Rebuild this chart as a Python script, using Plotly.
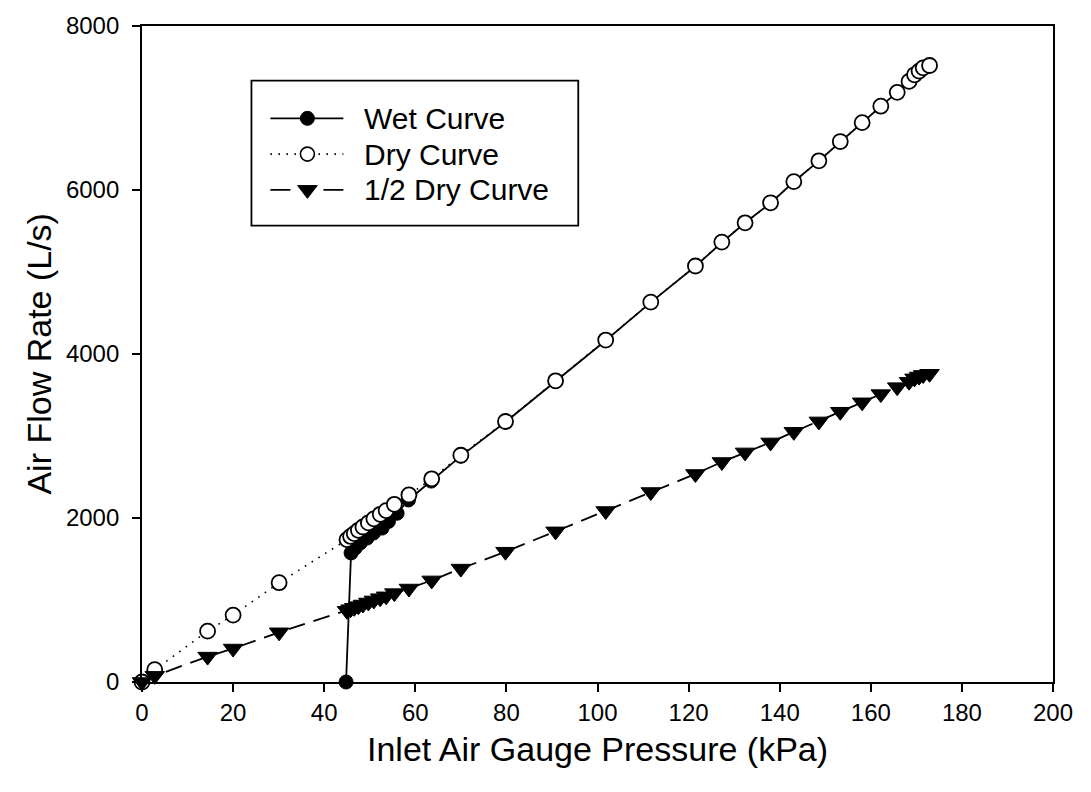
import plotly.graph_objects as go

# ---------------- data ----------------
dry_p = [0, 2.8, 14.4, 20.0, 30.1, 45.0, 45.8, 46.6, 47.5, 48.5, 49.7, 50.9, 52.3, 53.6,
         55.4, 58.6, 63.6, 70.0, 79.8, 90.8, 101.8, 111.7, 121.5, 127.3, 132.4, 138.0,
         143.1, 148.6, 153.3, 158.1, 162.2, 165.8, 168.4, 169.6, 170.6, 171.5, 172.9]
dry_q = [0, 150, 620, 816, 1211, 1736, 1775, 1810, 1850, 1890, 1940, 1990, 2045, 2090,
         2167, 2281, 2478, 2765, 3177, 3673, 4170, 4633, 5073, 5365, 5600, 5844,
         6102, 6356, 6591, 6821, 7022, 7191, 7324, 7405, 7450, 7490, 7518]

wet_p = [44.8, 45.9, 46.8, 47.9, 49.4, 50.8, 52.7, 54.1, 56.0, 58.5, 63.5, 70.0, 79.8,
         90.8, 101.8, 111.7, 121.5, 127.3, 132.4, 138.0, 143.1, 148.6, 153.3, 158.1,
         162.2, 165.8, 168.4, 169.6, 170.7, 171.4, 172.3]
wet_q = [0, 1574, 1634, 1695, 1755, 1816, 1877, 1958, 2058, 2220, 2450, 2755, 3170,
         3665, 4165, 4630, 5070, 5360, 5600, 5840, 6100, 6355, 6590, 6820,
         7020, 7190, 7320, 7400, 7445, 7487, 7505]

half_p = [0, 2.8, 14.4, 20.0, 30.1, 45.0, 45.8, 46.6, 47.5, 48.5, 49.7, 50.9, 52.3, 53.6,
          55.4, 58.6, 63.6, 70.0, 79.8, 90.8, 101.8, 111.7, 121.5, 127.3, 132.4, 138.0,
          143.1, 148.6, 153.3, 158.1, 162.2, 165.8, 168.4, 169.6, 170.6, 171.5, 172.9]
half_q = [0, 75, 310, 408, 606, 868, 888, 905, 925, 945, 970, 995, 1022, 1045,
          1084, 1140, 1239, 1383, 1589, 1837, 2085, 2317, 2537, 2683, 2800, 2922,
          3051, 3178, 3296, 3411, 3511, 3596, 3662, 3703, 3725, 3745, 3759]

x_ticks = [0, 20, 40, 60, 80, 100, 120, 140, 160, 180, 200]
y_ticks = [0, 2000, 4000, 6000, 8000]

series_names = ["Wet Curve", "Dry Curve", "1/2 Dry Curve"]
x_title = "Inlet Air Gauge Pressure (kPa)"
y_title = "Air Flow Rate (L/s)"

# ---------------- layout geometry (pixels) ----------------
W, H = 1091, 792
L, R, T, B = 141.5, 1053, 21, 681.7
FONT = "Liberation Sans, Arial, sans-serif"


def px(xp):
    return (xp - L) / (R - L)


def py(yp):
    return (B - yp) / (B - T)


fig = go.Figure()

fig.add_trace(go.Scatter(
    x=wet_p, y=wet_q, mode="lines+markers", name=series_names[0],
    line=dict(color="black", width=1.8),
    marker=dict(symbol="circle", size=14, color="black", line=dict(color="black", width=1)),
    cliponaxis=False, showlegend=False))

fig.add_trace(go.Scatter(
    x=dry_p, y=dry_q, mode="lines+markers", name=series_names[1],
    line=dict(color="black", width=1.6, dash="1.6px,6.4px"),
    marker=dict(symbol="circle", size=15, color="white", line=dict(color="black", width=1.8)),
    cliponaxis=False, showlegend=False))

fig.add_trace(go.Scatter(
    x=half_p, y=half_q, mode="lines+markers", name=series_names[2],
    line=dict(color="black", width=1.8, dash="17px,9px"),
    marker=dict(symbol="triangle-down", size=17, color="black", line=dict(color="black", width=1)),
    cliponaxis=False, showlegend=False))

# ---------------- custom legend ----------------
leg_rows = [114, 150, 186]
line_x0, line_x1, mark_x, text_x = 270, 343, 307, 362
dashes = ["solid", "1.6px,6.4px", "20px,33px,20px"]
shapes = [dict(type="rect", xref="paper", yref="paper",
               x0=px(251), x1=px(578), y0=py(76), y1=py(222),
               line=dict(color="black", width=1.8), fillcolor="white", layer="below")]
for i, yr in enumerate(leg_rows):
    shapes.append(dict(type="line", xref="paper", yref="paper",
                       x0=px(line_x0), x1=px(line_x1), y0=py(yr), y1=py(yr),
                       line=dict(color="black", width=1.6, dash=dashes[i]), layer="below"))

leg_marker_styles = [
    dict(symbol="circle", size=14, color="black", line=dict(color="black", width=1)),
    dict(symbol="circle", size=14, color="white", line=dict(color="black", width=1.6)),
    dict(symbol="triangle-down", size=17, color="black", line=dict(color="black", width=1)),
]
for i, yr in enumerate(leg_rows):
    fig.add_trace(go.Scatter(
        x=[px(mark_x)], y=[py(yr)], mode="markers", marker=leg_marker_styles[i],
        xaxis="x2", yaxis="y2", showlegend=False, hoverinfo="skip", cliponaxis=False))

annotations = []
for i, yr in enumerate(leg_rows):
    annotations.append(dict(x=px(text_x), y=py(yr), xref="paper", yref="paper",
                            text=series_names[i], showarrow=False, xanchor="left",
                            yanchor="middle", font=dict(family=FONT, size=30, color="black")))

annotations.append(dict(x=0.5, y=py(749), xref="paper", yref="paper", text=x_title,
                        showarrow=False, xanchor="center", yanchor="middle",
                        font=dict(family=FONT, size=34, color="black")))
annotations.append(dict(x=px(38), y=0.5, xref="paper", yref="paper", text=y_title,
                        showarrow=False, xanchor="center", yanchor="middle", textangle=-90,
                        font=dict(family=FONT, size=34, color="black")))

axis_common = dict(showgrid=False, zeroline=False, showline=True, linecolor="black",
                   linewidth=1.8, mirror=True, ticks="outside", ticklen=8, tickwidth=1.5,
                   tickcolor="black", tickfont=dict(family=FONT, size=24, color="black"))

fig.update_layout(
    width=W, height=H,
    margin=dict(l=L, r=W - R, t=T, b=H - B, pad=0),
    paper_bgcolor="white", plot_bgcolor="white",
    xaxis=dict(range=[0, 200], tickvals=x_ticks, **axis_common),
    yaxis=dict(range=[0, 8000], tickvals=y_ticks, ticklabelstandoff=8, **axis_common),
    xaxis2=dict(overlaying="x", range=[0, 1], visible=False, anchor="y2"),
    yaxis2=dict(overlaying="y", range=[0, 1], visible=False, anchor="x2"),
    shapes=shapes, annotations=annotations, showlegend=False,
)

fig.write_html("out.html")
